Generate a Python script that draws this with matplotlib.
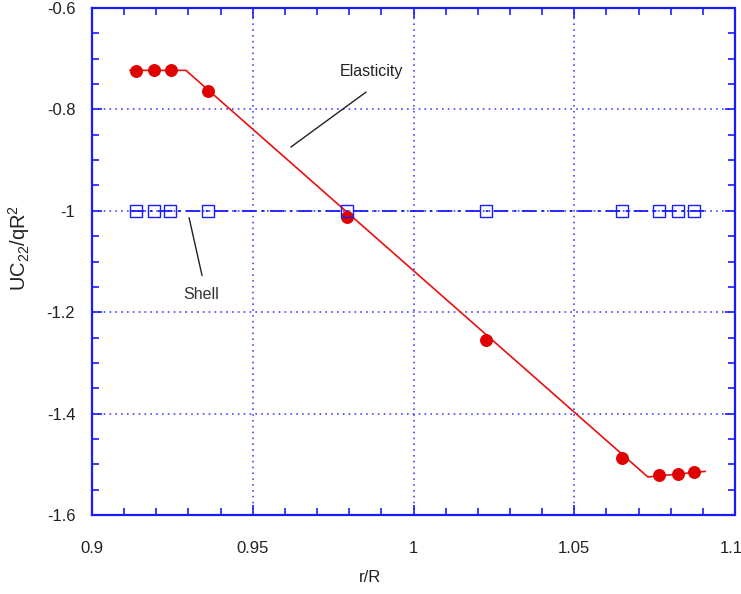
# Elasticity vs shell solution for UC22/qR^2 across r/R

import matplotlib.pyplot as plt
from matplotlib.ticker import MultipleLocator
import matplotlib.transforms as mtransforms

plt.rcParams["font.family"] = ["Liberation Sans", "DejaVu Sans"]
plt.rcParams["mathtext.fontset"] = "custom"
plt.rcParams["mathtext.rm"] = "Liberation Sans"
plt.rcParams["mathtext.it"] = "Liberation Sans:italic"

# ====== Data ======
elast_x = [0.9137, 0.9193, 0.9245, 0.9361, 0.9793, 1.0226, 1.0649, 1.0764, 1.0822, 1.0873]
elast_y = [-0.724, -0.723, -0.722, -0.763, -1.012, -1.254, -1.488, -1.522, -1.519, -1.516]

# theory curve (red solid line)
theory_x = [0.9118, 0.9292, 1.0729, 1.0907]
theory_y = [-0.723, -0.723, -1.525, -1.514]

shell_x = [0.9137, 0.9193, 0.9243, 0.9361, 0.9793, 1.0226, 1.0649, 1.0764, 1.0822, 1.0873]
shell_y = [-1.0] * len(shell_x)
shell_line_x = [0.9118, 1.0907]
shell_line_y = [-1.0, -1.0]

x_ticks = [0.9, 0.95, 1.0, 1.05, 1.1]
x_ticklabels = ["0.9", "0.95", "1", "1.05", "1.1"]
y_ticks = [-1.6, -1.4, -1.2, -1.0, -0.8, -0.6]
y_ticklabels = ["-1.6", "-1.4", "-1.2", "-1", "-0.8", "-0.6"]

blue = "#1a1aff"
txt = "#222222"

fig = plt.figure(figsize=(7.41, 5.94), dpi=100)
ax = fig.add_axes([0.1242, 0.133, 0.8677, 0.8535])

# red theory line + points
ax.plot(theory_x, theory_y, color="#e81010", linewidth=1.2, zorder=3)
ax.plot(elast_x, elast_y, linestyle="none", marker="o", markersize=8.3,
        color="#e00000", zorder=4)

# blue shell line + open squares
ax.plot(shell_line_x, shell_line_y, color=blue, linewidth=1.3,
        dashes=(8, 3, 1.5, 3), zorder=3)
ax.plot(shell_x, shell_y, linestyle="none", marker="s", markersize=8,
        markerfacecolor="none", markeredgecolor=blue, markeredgewidth=1.0, zorder=4)

# annotations
ax.plot([0.9619, 0.9852], [-0.874, -0.766], color=txt, linewidth=1.0, zorder=5)
ax.text(0.9868, -0.726, "Elasticity", ha="center", va="center", fontsize=11.5, color=txt)
ax.plot([0.9302, 0.9342], [-1.014, -1.127], color=txt, linewidth=1.0, zorder=5)
ax.text(0.9339, -1.166, "Shell", ha="center", va="center", fontsize=11.5, color="#333333")

ax.set_xlim(0.9, 1.1)
ax.set_ylim(-1.6, -0.6)
ax.xaxis.set_minor_locator(MultipleLocator(0.01))
ax.yaxis.set_minor_locator(MultipleLocator(0.05))
ax.set_xticks(x_ticks)
ax.set_xticklabels(x_ticklabels)
ax.set_yticks(y_ticks)
ax.set_yticklabels(y_ticklabels)

ax.tick_params(which="both", direction="in", top=True, right=True,
               color=blue, labelcolor=txt, labelsize=12)
ax.tick_params(which="major", length=7, width=1.2)
ax.tick_params(which="minor", length=5, width=1.2)
ax.tick_params(axis="x", pad=19)
ax.tick_params(axis="y", pad=12)

# keep the last x label inside the figure
last = ax.get_xticklabels()[-1]
last.set_transform(last.get_transform() +
                   mtransforms.ScaledTranslation(-4 / 100, 0, fig.dpi_scale_trans))

ax.grid(True, which="major", color=blue, linestyle=(0, (1, 2.5)), linewidth=1.2, alpha=0.8)
for sp in ax.spines.values():
    sp.set_color(blue)
    sp.set_linewidth(1.6)
    sp.set_linestyle((0, (1, 1)))

ax.set_xlabel("r/R", fontsize=12, color=txt)
ax.xaxis.set_label_coords(0.432, -0.108)
ax.set_ylabel("UC$_{22}$/qR$^2$", fontsize=14.5, color=txt)
ax.yaxis.set_label_coords(-0.094, 0.527)

fig.savefig("out.png", dpi=100)
